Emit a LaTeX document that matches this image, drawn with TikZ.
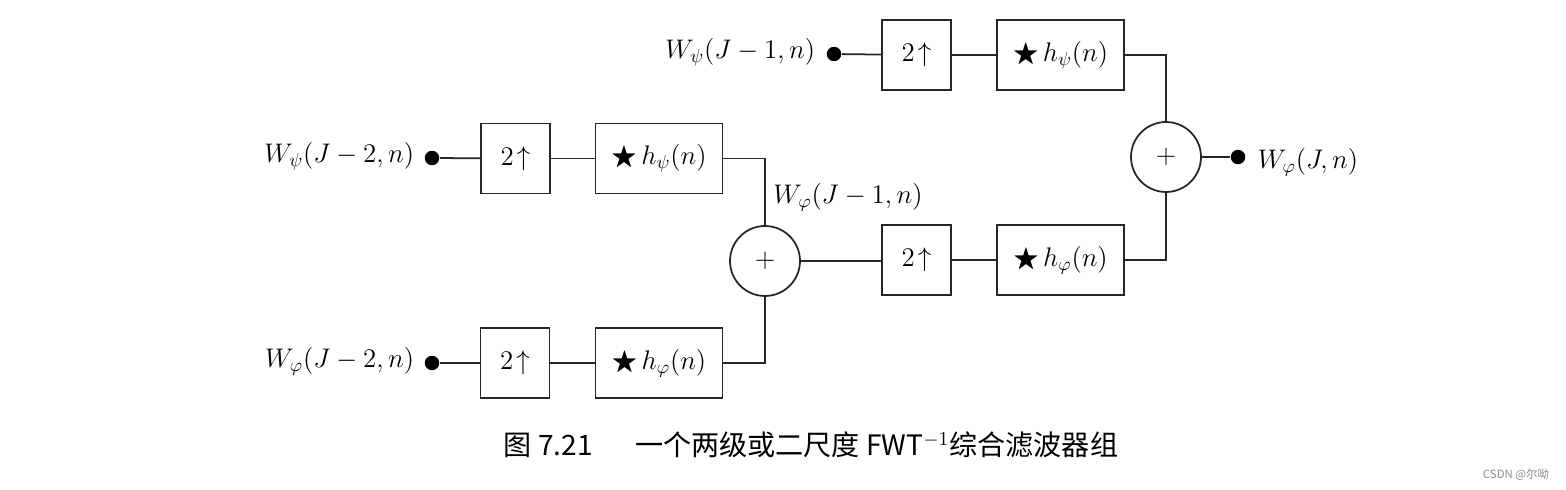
\RequirePackage{fix-cm}
\documentclass[tikz,border=0pt]{standalone}
\usepackage{amssymb}
\usepackage{fontspec}
\newfontfamily\cjk{Noto Sans CJK SC}
\begin{document}
\begin{tikzpicture}[x=0.02cm,y=-0.02cm,
  line width=1pt, draw=black!85,
  every node/.style={font=\fontsize{15.3}{18}\selectfont},
  upbox/.style={draw, line width=1pt, minimum width=1.38cm, minimum height=1.4cm, inner sep=0pt},
  filtbox/.style={draw, line width=1pt, minimum width=2.54cm, minimum height=1.4cm, inner sep=0pt},
  adder/.style={draw, circle, line width=1pt, minimum size=1.4cm, inner sep=0pt},
  terminal/.style={circle, fill=black, minimum size=0.29cm, inner sep=0pt},
  lbl/.style={inner sep=0pt}]
\useasboundingbox (0,0) rectangle (1566,490);
% top row
\node[terminal] (d1) at (834,54) {};
\node[lbl, anchor=east] (l1) at (816,52) {$W_{\psi}(J-1,n)$};
\node[upbox] (u1) at (916.5,55) {$2\!\uparrow$};
\node[filtbox] (f1) at (1060.5,55) {$\bigstar\, h_{\psi}(n)$};
% left top row
\node[terminal] (d2) at (432,158) {};
\node[lbl, anchor=east] (l2) at (415,156) {$W_{\psi}(J-2,n)$};
\node[upbox] (u2) at (515.5,158.5) {$2\!\uparrow$};
\node[filtbox] (f2) at (659,158.5) {$\bigstar\, h_{\psi}(n)$};
% left bottom row
\node[terminal] (d3) at (432,363) {};
\node[lbl, anchor=east] (l3) at (415,361) {$W_{\varphi}(J-2,n)$};
\node[upbox] (u3) at (515,363) {$2\!\uparrow$};
\node[filtbox] (f3) at (659,363) {$\bigstar\, h_{\varphi}(n)$};
% adders
\node[adder] (a1) at (765,261) {$+$};
\node[adder] (a2) at (1166,157) {$+$};
\node[lbl] (lm) at (848,197) {$W_{\varphi}(J-1,n)$};
% mid right row
\node[upbox] (u4) at (916.5,260) {$2\!\uparrow$};
\node[filtbox] (f4) at (1060.5,260) {$\bigstar\, h_{\varphi}(n)$};
% output
\node[terminal] (d4) at (1238,157) {};
\node[lbl, anchor=west] (l4) at (1257,162) {$W_{\varphi}(J,n)$};
% connectors
\draw (d1) -- (u1);
\draw (u1) -- (f1);
\draw (f1.east) -| (a2.north);
\draw (d2) -- (u2);
\draw (u2) -- (f2);
\draw (f2.east) -| (a1.north);
\draw (d3) -- (u3);
\draw (u3) -- (f3);
\draw (f3.east) -| (a1.south);
\draw (a1.east) -- (u4.west |- a1.east);
\draw (u4) -- (f4);
\draw (f4.east) -| (a2.south);
\draw (a2) -- (d4);
% caption
\node[lbl, font=\cjk\fontsize{16}{19}\selectfont] (cap) at (811,445) {图 7.21\hspace{1.5em}一个两级或二尺度 FWT$^{-1}$综合滤波器组};
\node[lbl, font=\cjk\fontsize{6.5}{8}\selectfont, text=black!45] (wm) at (1516,475) {CSDN @尔呦};
\end{tikzpicture}
\end{document}
